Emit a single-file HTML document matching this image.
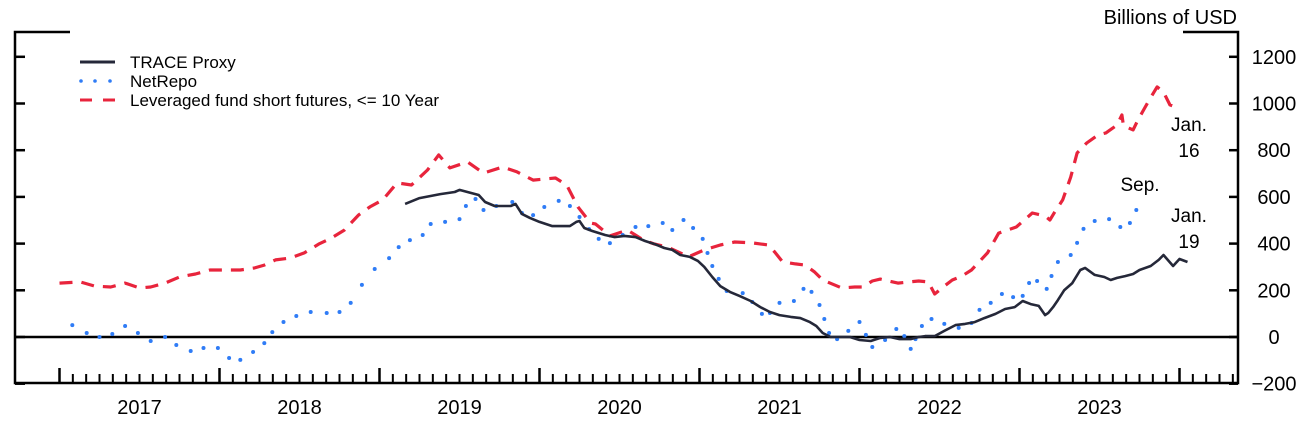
<!DOCTYPE html>
<html><head><meta charset="utf-8"><style>
html,body{margin:0;padding:0;background:#fff;}
svg{display:block;font-family:"Liberation Sans",Arial,sans-serif;}
</style></head><body>
<svg id="chart" width="1306" height="421" viewBox="0 0 1306 421" xmlns="http://www.w3.org/2000/svg">
<g id="frame" stroke="#000" stroke-width="2.5" fill="none">
  <path d="M70,32 H15 V383 H1238 V32 H1183"/>
</g>
<line x1="15" y1="337" x2="1238" y2="337" stroke="#000" stroke-width="2.5"/>
<g id="yticks"></g>
<g id="xticks"></g>
<text x="1237" y="24" font-size="20" text-anchor="end">Billions of USD</text>
<g id="series"></g>
<g>
  <g>
    <line x1="80" y1="62" x2="115" y2="62" stroke="#252839" stroke-width="3"/>
    <text x="130" y="68" font-size="17">TRACE Proxy</text>
  </g>
  <g>
    <circle cx="81" cy="81" r="1.8" fill="#2f7cf6"/><circle cx="95" cy="81" r="1.8" fill="#2f7cf6"/><circle cx="110" cy="81" r="1.8" fill="#2f7cf6"/>
    <text x="130" y="87" font-size="17">NetRepo</text>
  </g>
  <g>
    <line x1="80" y1="100" x2="115" y2="100" stroke="#e8243c" stroke-width="3" stroke-dasharray="12,11"/>
    <text x="130" y="106" font-size="17">Leveraged fund short futures, &lt;= 10 Year</text>
  </g>
</g>
<g font-size="19" text-anchor="middle">
  <text x="1189" y="131">Jan.</text>
  <text x="1189" y="157">16</text>
  <text x="1140" y="191">Sep.</text>
  <text x="1189" y="222">Jan.</text>
  <text x="1189" y="248">19</text>
</g>
</svg>
<script>
const yTickValues = [1200, 1000, 800, 600, 400, 200, 0, -200];
const yearLabels = ["2017", "2018", "2019", "2020", "2021", "2022", "2023"];
const traceDates = [2.16,2.25,2.38,2.47,2.50,2.57,2.62,2.66,2.72,2.82,2.85,2.89,2.94,3.00,3.08,3.19,3.23,3.25,3.28,3.33,3.41,3.47,3.53,3.60,3.66,3.72,3.78,3.83,3.88,3.94,3.99,4.03,4.08,4.13,4.19,4.25,4.32,4.38,4.44,4.50,4.57,4.63,4.69,4.73,4.77,4.82,4.94,5.00,5.07,5.13,5.19,5.25,5.32,5.37,5.41,5.47,5.53,5.60,5.66,5.72,5.78,5.85,5.91,5.97,6.02,6.07,6.12,6.16,6.18,6.21,6.24,6.28,6.33,6.38,6.41,6.47,6.53,6.57,6.61,6.66,6.71,6.75,6.82,6.87,6.90,6.96,7.00,7.05];
const traceValues = [570,595,612,621,630,617,608,578,561,561,570,527,510,493,475,475,493,497,467,454,437,428,433,428,411,398,381,373,351,343,326,300,257,218,193,176,154,128,107,94,86,81,64,47,17,0,0,-13,-17,-4,0,-9,-9,0,4,4,26,51,56,64,81,99,120,128,154,141,133,94,103,128,158,201,231,287,296,266,257,244,253,261,270,287,304,330,351,304,334,321];
const repoDates = [0.08,0.17,0.25,0.33,0.41,0.49,0.57,0.66,0.73,0.82,0.90,0.99,1.06,1.13,1.21,1.28,1.33,1.40,1.48,1.57,1.67,1.75,1.82,1.89,1.97,2.06,2.12,2.19,2.27,2.32,2.41,2.50,2.54,2.60,2.65,2.73,2.83,2.89,2.96,3.03,3.12,3.19,3.25,3.31,3.37,3.44,3.52,3.60,3.68,3.77,3.83,3.90,3.96,4.02,4.05,4.08,4.12,4.17,4.27,4.33,4.39,4.44,4.50,4.59,4.65,4.70,4.75,4.78,4.81,4.86,4.93,5.00,5.04,5.08,5.16,5.23,5.28,5.32,5.35,5.39,5.45,5.53,5.62,5.70,5.75,5.82,5.89,5.96,6.02,6.06,6.11,6.17,6.20,6.24,6.32,6.36,6.40,6.47,6.56,6.63,6.69,6.73];
const repoValues = [51,17,0,13,47,17,-17,0,-34,-60,-47,-47,-90,-98,-64,-26,21,64,90,107,103,107,146,223,291,338,385,415,437,484,493,505,561,591,544,561,578,531,522,557,583,561,514,462,420,402,437,471,475,488,458,501,467,420,360,304,249,197,188,150,99,103,146,154,206,193,137,77,17,-9,26,64,9,-43,-13,34,4,-51,-9,47,77,56,39,60,116,146,184,171,176,231,240,206,261,321,351,403,463,497,505,471,488,544];
const levDates = [0.00,0.13,0.22,0.32,0.41,0.50,0.57,0.66,0.75,0.85,0.94,1.03,1.13,1.22,1.28,1.35,1.44,1.53,1.62,1.70,1.78,1.87,1.94,2.02,2.11,2.20,2.30,2.37,2.44,2.55,2.65,2.77,2.86,2.96,3.10,3.17,3.24,3.32,3.35,3.44,3.55,3.65,3.72,3.80,3.88,3.93,3.97,4.03,4.13,4.22,4.33,4.43,4.47,4.52,4.60,4.66,4.72,4.77,4.89,4.97,5.02,5.08,5.13,5.24,5.37,5.43,5.47,5.53,5.58,5.64,5.70,5.80,5.87,5.98,6.08,6.16,6.19,6.22,6.27,6.32,6.36,6.42,6.49,6.54,6.61,6.64,6.65,6.71,6.74,6.80,6.86,6.90,6.94,6.99];
const levValues = [231,236,218,214,231,210,214,231,257,270,287,287,287,296,308,330,338,360,398,424,458,523,557,587,660,651,715,780,724,750,702,728,707,672,681,651,557,488,484,433,458,415,398,385,360,343,355,373,394,407,403,394,364,321,313,308,278,244,210,214,214,240,248,231,240,236,184,218,244,261,287,360,445,471,531,518,501,535,587,685,788,831,865,874,908,951,904,887,929,1002,1071,1049,994,981];

const NS = "http://www.w3.org/2000/svg";
function xScale(t){ return 59.5 + t*160; }
function yScale(v){ return 337 - v*0.2335; }
function mk(tag, attrs, parent){ const e=document.createElementNS(NS,tag); for(const k in attrs) e.setAttribute(k,attrs[k]); parent.appendChild(e); return e; }

const yt = document.getElementById('yticks');
yTickValues.forEach(v=>{
  const y=yScale(v);
  const r=mk('line',{x1:1238,x2:1229,y1:y,y2:y,stroke:'#000','stroke-width':2.5},yt);
  
  
  const l=mk('line',{x1:15,x2:25,y1:y,y2:y,stroke:'#000','stroke-width':2.5},yt);
  
  
  const t=mk('text',{x:1274,y:y+7,'font-size':20,'text-anchor':'middle'},yt);
  t.textContent = v<0 ? '\u2212'+Math.abs(v) : String(v);
  
  
});

const xt = document.getElementById('xticks');
for(let m=0; m<=88; m++){
  const x=xScale(m/12);
  if(x>1236) break;
  const major = m%12===0;
  const tk=mk('line',{x1:x,x2:x,y1:383,y2:major?368:374,stroke:'#000','stroke-width':major?2.5:2},xt);
  
  
}
yearLabels.forEach((lab,i)=>{
  const t=mk('text',{x:xScale(i+0.5),y:414,'font-size':20,'text-anchor':'middle'},xt);
  t.textContent=lab;
  
  
});

const sg=document.getElementById('series');
function pathFrom(ds,vs){ return ds.map((d,i)=>(i?'L':'M')+xScale(d).toFixed(1)+','+yScale(vs[i]).toFixed(1)).join(''); }
const lev=mk('path',{d:pathFrom(levDates,levValues),fill:'none',stroke:'#e8243c','stroke-width':3.2,'stroke-dasharray':'13,9','stroke-linejoin':'round'},sg);


const rg=mk('g',{},sg);


repoDates.forEach((d,i)=>{
  const c=mk('circle',{cx:xScale(d),cy:yScale(repoValues[i]),r:2,fill:'#2f7cf6'},rg);
  
  
});
const tr=mk('path',{d:pathFrom(traceDates,traceValues),fill:'none',stroke:'#252839','stroke-width':2.6,'stroke-linejoin':'round'},sg);


</script>
</body></html>
